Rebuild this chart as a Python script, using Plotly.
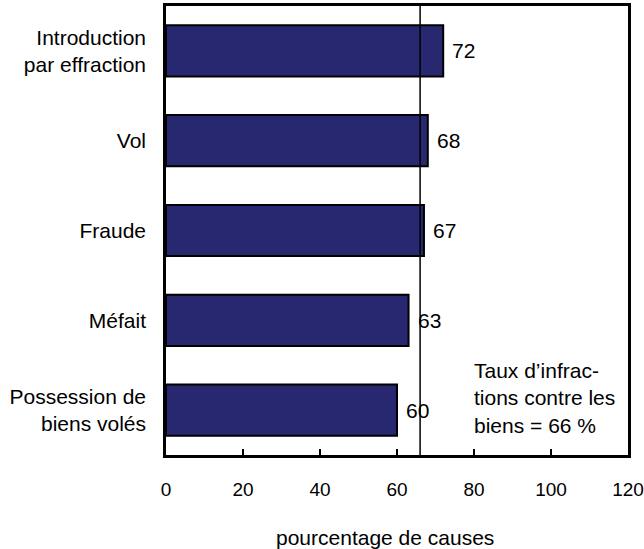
import plotly.graph_objects as go

categories = ["Introduction<br>par effraction", "Vol", "Fraude", "Méfait", "Possession de<br>biens volés"]
values = [72, 68, 67, 63, 60]
overall_rate = 66
x_ticks = [0, 20, 40, 60, 80, 100, 120]
note_text = "Taux d’infrac-<br>tions contre les<br>biens = 66 %"
x_title = "pourcentage de causes"

FONT = "Liberation Sans, Arial, Helvetica, sans-serif"
FS = 21

fig = go.Figure()
fig.add_trace(go.Bar(
    y=categories, x=values, orientation="h",
    marker=dict(color="#282870", line=dict(color="black", width=2)),
    width=0.57, hoverinfo="skip",
))

for c, v in zip(categories, values):
    fig.add_annotation(x=v, y=c, text=str(v), showarrow=False, xanchor="left",
                       xshift=7, font=dict(size=FS, color="black", family=FONT))

fig.add_shape(type="line", x0=overall_rate, x1=overall_rate, y0=0, y1=1, yref="paper",
              line=dict(color="black", width=1.5))

fig.add_annotation(x=0.662, y=0.035, xref="paper", yref="paper", text=note_text,
                   showarrow=False, xanchor="left", yanchor="bottom", align="left",
                   font=dict(size=FS, color="black", family=FONT))

fig.add_annotation(x=0.474, y=-0.183, xref="paper", yref="paper", text=x_title,
                   showarrow=False, xanchor="center", yanchor="middle",
                   font=dict(size=FS, color="black", family=FONT))

fig.update_layout(
    width=644, height=549,
    margin=dict(l=166, r=16, t=6, b=94),
    paper_bgcolor="white", plot_bgcolor="white",
    showlegend=False,
    font=dict(family=FONT, size=FS, color="black"),
    xaxis=dict(range=[0, 120], tickvals=x_ticks, ticks="inside", ticklen=6,
               tickwidth=2, tickcolor="black", showgrid=False, zeroline=False,
               showline=True, linecolor="black", linewidth=2.5, mirror=True,
               automargin=False,
               ticklabelstandoff=15, ticklabeloverflow="allow", tickfont=dict(size=19)),
    yaxis=dict(categoryorder="array", categoryarray=categories, autorange="reversed",
               ticks="", showgrid=False, zeroline=False, showline=True,
               linecolor="black", linewidth=2.5, mirror=True, automargin=False,
               ticklabelstandoff=13, tickfont=dict(size=FS)),
)

fig.write_html("out.html", config={"displayModeBar": False},
               post_script="document.body.style.margin='0';document.body.style.padding='0';")
